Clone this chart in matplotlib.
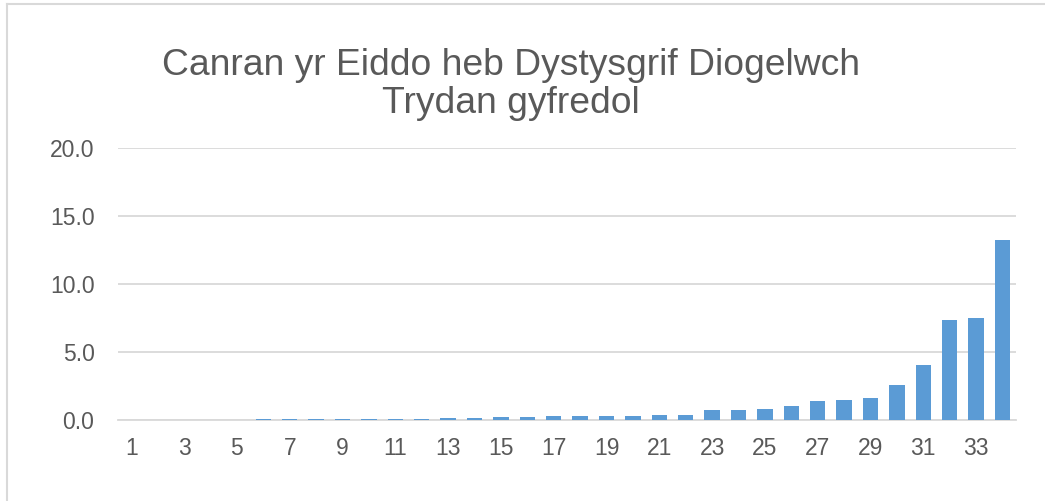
import matplotlib.pyplot as plt
from matplotlib.lines import Line2D

plt.rcParams['font.family'] = ['Liberation Sans', 'DejaVu Sans']

categories = list(range(1, 35))
values = [0.0, 0.0, 0.0, 0.0, 0.0, 0.04, 0.04, 0.04, 0.04, 0.04,
          0.05, 0.06, 0.12, 0.16, 0.20, 0.24, 0.25, 0.28, 0.28, 0.30,
          0.33, 0.33, 0.71, 0.74, 0.79, 1.05, 1.37, 1.49, 1.62, 2.57,
          4.04, 7.33, 7.50, 13.2]
yticks = [0, 5, 10, 15, 20]

fig = plt.figure(figsize=(10.45, 5.01), dpi=100)
ax = fig.add_axes([0.113, 0.162, 0.859, 0.543])

ax.bar(categories, values, width=0.58, color='#5b9bd5', zorder=3)

ax.set_xlim(0.5, 34.5)
ax.set_ylim(0, 20)
ax.set_yticks(yticks)
ax.set_yticklabels([f'{v:.1f}' for v in yticks])
ax.set_xticks(categories[::2])
ax.set_xticklabels([str(c) for c in categories[::2]])
ax.grid(axis='y', color='#d9d9d9', linewidth=1.3, zorder=0)
for s in ['top', 'right', 'left']:
    ax.spines[s].set_visible(False)
ax.spines['bottom'].set_color('#d9d9d9')
ax.spines['bottom'].set_linewidth(1.3)
ax.tick_params(axis='both', length=0, labelsize=16.5, labelcolor='#595959')
ax.tick_params(axis='y', pad=17)
ax.tick_params(axis='x', pad=12)

fig.text(0.489, 0.832, 'Canran yr Eiddo heb Dystysgrif Diogelwch\nTrydan gyfredol',
         ha='center', va='center', fontsize=26.8, color='#595959', linespacing=1.1)

# chart frame (only top and left edges are inside the crop)
fig.lines.append(Line2D([0.0067, 0.0067], [0, 0.992], transform=fig.transFigure,
                        color='#d9d9d9', linewidth=1.5))
fig.lines.append(Line2D([0.0067, 1], [0.992, 0.992], transform=fig.transFigure,
                        color='#d9d9d9', linewidth=1.5))

fig.savefig('out.png', dpi=100)
